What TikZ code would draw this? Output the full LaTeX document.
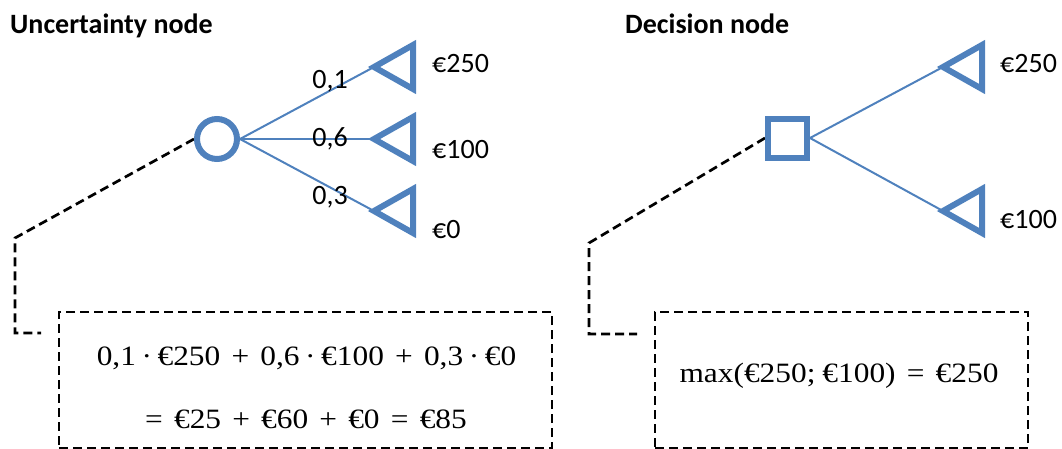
\documentclass[tikz,border=0pt]{standalone}
\usepackage{fontspec}
\setmainfont{Carlito}
\newfontfamily\calcfont[FakeStretch=1.12]{Liberation Serif}
\usepackage{tikz}
\usetikzlibrary{positioning}
\pgfdeclarelayer{background}
\pgfdeclarelayer{foreground}
\pgfsetlayers{background,main,foreground}
\definecolor{nodeblue}{HTML}{4F81BD}
\newcommand{\bop}[1]{\hspace{0.4em}#1\hspace{0.4em}}
\newcommand{\dotop}{\hspace{0.2em}·\hspace{0.2em}}

\begin{document}
\begin{tikzpicture}[x=1pt,y=-1pt,
						chancenode/.style={circle, draw=nodeblue, line width=6pt, minimum size=40pt, inner sep=0pt},
						decisionnode/.style={rectangle, draw=nodeblue, line width=6pt, minimum size=39pt, inner sep=0pt},
						branch/.style={draw=nodeblue, line width=2pt},
						leaf/.style={draw=nodeblue, line width=6pt},
						title/.style={font=\fontsize{28}{34}\selectfont\bfseries, anchor=base west, inner sep=0pt},
						value/.style={font=\fontsize{28}{34}\selectfont, anchor=base west, inner sep=0pt},
						prob/.style={font=\fontsize{28}{34}\selectfont, inner sep=0pt},
						calcbox/.style={draw, line width=2.7pt, dash pattern=on 9pt off 5pt, inner sep=0pt},
						leader/.style={draw, line width=2.7pt, dash pattern=on 9pt off 5pt},
						calc/.style={font=\calcfont\fontsize{28}{33}\selectfont, anchor=base, inner sep=0pt},
						]
						\useasboundingbox (0,0) rectangle (1062,448);
						%Nodes
						\node[title]          (utitle)  at  (10,33)        {Uncertainty node};
						\node[title]          (dtitle)  at  (625,33)       {Decision node};

						\node[chancenode]     (chance)  at  (217,139)      {};
						\coordinate           (u1)      at  (374,67);
						\coordinate           (u2)      at  (374,139);
						\coordinate           (u3)      at  (374,211);
						\node[prob]           (p1)      at  (330,81)       {0,1};
						\node[prob]           (p2)      at  (330,139)      {0,6};
						\node[prob]           (p3)      at  (330,197)      {0,3};
						\node[value]          (v1)      at  (432,72)       {€250};
						\node[value]          (v2)      at  (432,158)      {€100};
						\node[value]          (v3)      at  (432,238)      {€0};

						\node[decisionnode]   (choice)  at  (787.5,138)    {};
						\coordinate           (d1)      at  (943,67);
						\coordinate           (d2)      at  (943,211);
						\node[value]          (w1)      at  (1000,72)      {€250};
						\node[value]          (w2)      at  (1000,228)     {€100};

						\node[calcbox, minimum width=493pt, minimum height=136pt] (evbox) at (305.5,380) {};
						\node[calc]           (ev1)     at  (306.5,365)    {0,1\dotop €250\bop{+}0,6\dotop €100\bop{+}0,3\dotop €0};
						\node[calc]           (ev2)     at  (306,428)      {=\hspace{0.4em}€25\bop{+}€60\bop{+}€0\bop{=}€85};
						\node[calcbox, minimum width=373pt, minimum height=136pt] (maxbox) at (841.5,380) {};
						\node[calc]           (mx)      at  (839,382)      {max(€250;\hspace{0.25em}€100)\bop{=}€250};

						\coordinate           (k1)      at  (15,238);
						\coordinate           (k2)      at  (15,333);
						\coordinate           (k3)      at  (41,333);
						\coordinate           (m1)      at  (589,243);
						\coordinate           (m2)      at  (589,334);
						\coordinate           (m3)      at  (637,334);

						%Leaves
						\foreach \t in {u1,u2,u3,d1,d2}
							\draw[leaf] (\t) -- ++(39,-22) -- ++(0,44) -- cycle;

						\begin{pgfonlayer}{background}
						%Lines
						\draw[branch] (chance.east) -- (u1);
						\draw[branch] (chance.east) -- (u2);
						\draw[branch] (chance.east) -- (u3);
						\draw[branch] (choice.east) -- (d1);
						\draw[branch] (choice.east) -- (d2);

						\draw[leader] (chance.west) -- (k1) -- (k2) -- (k3);
						\draw[leader] (choice.west) -- (m1) -- (m2) -- (m3);
						\end{pgfonlayer}
					\end{tikzpicture}
\end{document}
